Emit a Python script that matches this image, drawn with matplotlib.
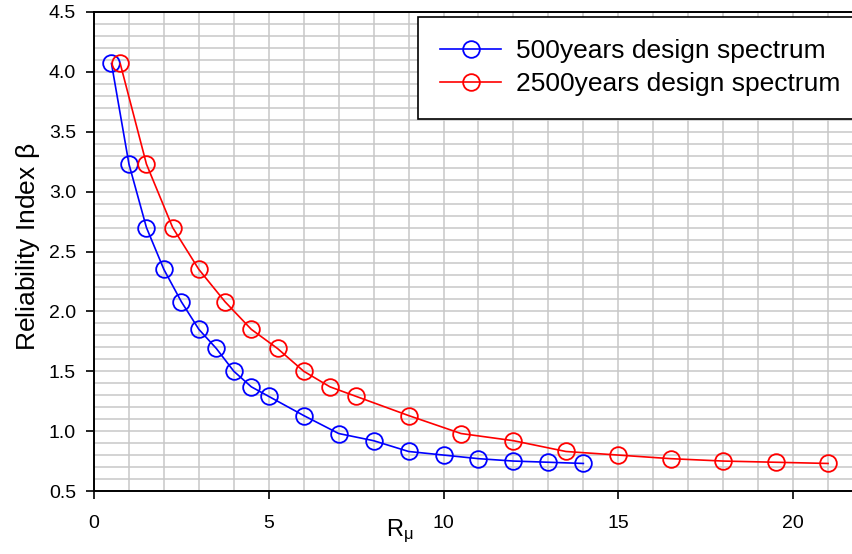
import numpy as np
import matplotlib.pyplot as plt

plt.rcParams['font.family'] = ['Liberation Sans', 'DejaVu Sans']
plt.rcParams['mathtext.fontset'] = 'custom'
plt.rcParams['mathtext.rm'] = 'Liberation Sans'
plt.rcParams['mathtext.it'] = 'Liberation Sans'

# ductility ratio vs reliability index for the two hazard levels
r_500 = [0.5, 1.0, 1.5, 2.0, 2.5, 3.0, 3.5, 4.0, 4.5, 5.0, 6.0, 7.0, 8.0, 9.0, 10.0, 11.0, 12.0, 13.0, 14.0]
r_2500 = [0.75, 1.5, 2.25, 3.0, 3.75, 4.5, 5.25, 6.0, 6.75, 7.5, 9.0, 10.5, 12.0, 13.5, 15.0, 16.5, 18.0, 19.5, 21.0]
beta = [4.07, 3.23, 2.70, 2.35, 2.08, 1.85, 1.69, 1.50, 1.37, 1.29, 1.13, 0.98, 0.92, 0.83, 0.80, 0.77, 0.75, 0.74, 0.73]

fig = plt.figure(figsize=(8.53, 5.54), dpi=100)
ax = fig.add_axes([94/853, 1-491/554, 769/853, 479/554])

ax.plot(r_500, beta, color='blue', lw=1.2, marker='o', ms=12, mfc='none', mew=1.3,
        label='500years design spectrum')
ax.plot(r_2500, beta, color='red', lw=1.2, marker='o', ms=12, mfc='none', mew=1.3,
        label='2500years design spectrum')

ax.set_xlim(0, 22)
ax.set_ylim(0.5, 4.5)
ax.set_xticks([0, 5, 10, 15, 20])
ax.set_xticks(np.arange(0, 23, 1), minor=True)
ax.set_yticks(np.arange(0.5, 4.51, 0.5))
ax.set_yticks(np.arange(0.5, 4.51, 0.1), minor=True)
ax.set_yticklabels(['%.1f' % v for v in np.arange(0.5, 4.51, 0.5)])

ax.grid(True, which='both', color='#c8c8c8', lw=1.1)
ax.set_axisbelow(True)
ax.tick_params(which='major', direction='out', length=6, width=1.2, labelsize=14)
ax.tick_params(axis='x', which='major', pad=11)
ax.tick_params(axis='y', which='major', pad=7)
ax.tick_params(which='minor', length=0)
ax.spines['right'].set_visible(False)
for s in ['left', 'bottom', 'top']:
    ax.spines[s].set_linewidth(1.4)

ax.set_xlabel(r'R$_\mu$', fontsize=17)
ax.xaxis.set_label_coords((400 - 94) / 769, -0.056)
ax.set_ylabel(r'Reliability Index $\beta$', fontsize=19)
ax.yaxis.set_label_coords(-0.068, 0.51)

leg = fig.legend(loc='upper left', bbox_to_anchor=(418/853, 1-17/554), fontsize=19,
                 frameon=True, fancybox=False, edgecolor='black', framealpha=1,
                 borderaxespad=0, handlelength=2.3, handletextpad=0.55,
                 borderpad=0.85, labelspacing=0.34)
leg.get_frame().set_linewidth(1.2)

fig.savefig('out.png', dpi=100)
